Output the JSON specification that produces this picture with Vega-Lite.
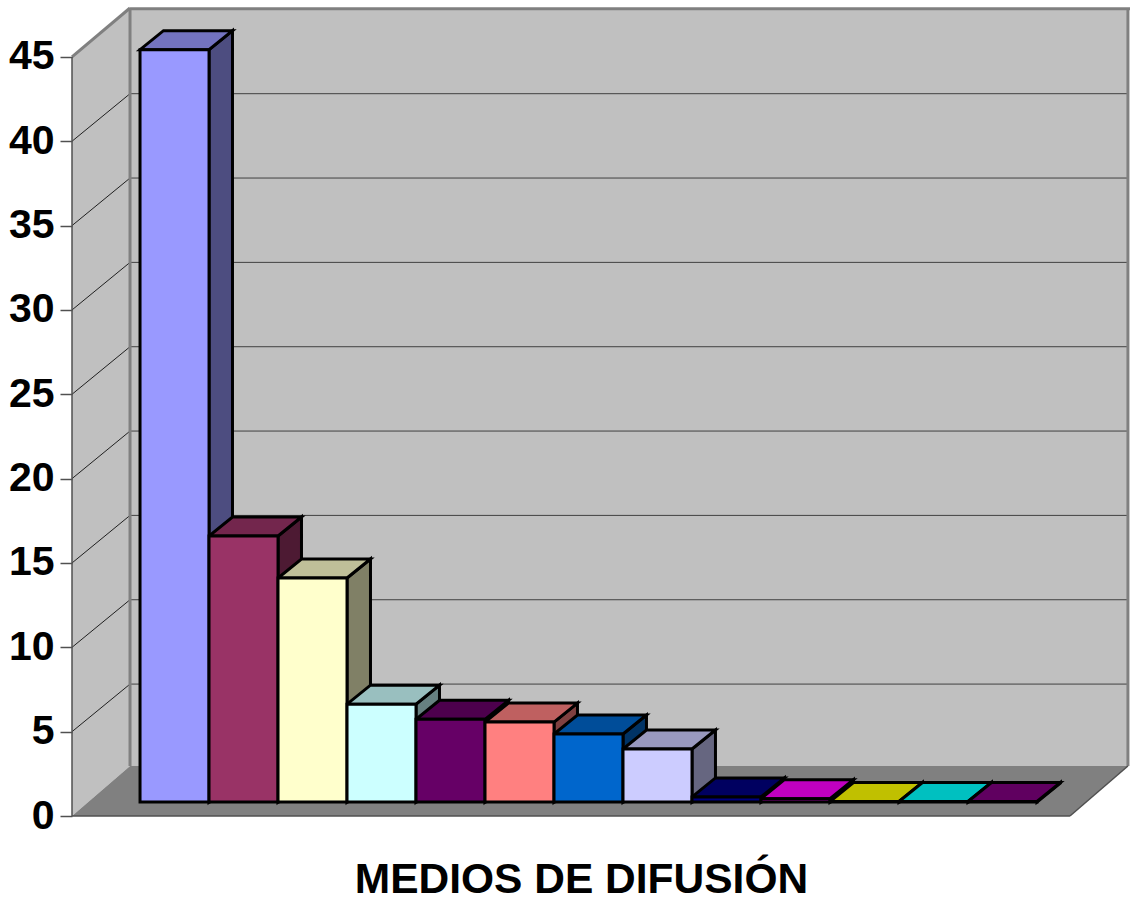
{
"$schema":"https://vega.github.io/schema/vega-lite/v6.json",
"width":1058,"height":808,
"autosize":{"type":"none"},
"padding":{"left":72,"top":8,"right":0,"bottom":81},
"background":"white",
"config":{"view":{"stroke":null},"axis":{"grid":false}},
"datasets":{
"medios":[
{"medio":1,"valor":44.6},{"medio":2,"valor":15.77},{"medio":3,"valor":13.28},{"medio":4,"valor":5.8},
{"medio":5,"valor":4.9},{"medio":6,"valor":4.74},{"medio":7,"valor":4.03},{"medio":8,"valor":3.14},
{"medio":9,"valor":0.3},{"medio":10,"valor":0.2},{"medio":11,"valor":0.03},{"medio":12,"valor":0.03},{"medio":13,"valor":0.03}],
"superficies":[
{"cara":"fondo","x":-0.145,"y":2.964,"y2":47.9},{"cara":"fondo","x":14.318,"y":2.964,"y2":47.9},
{"cara":"lateral","x":-0.986,"y":0,"y2":45},{"cara":"lateral","x":-0.145,"y":2.964,"y2":47.9},
{"cara":"suelo","x":-0.986,"y":0,"y2":0},{"cara":"suelo","x":-0.145,"y":0,"y2":2.964},{"cara":"suelo","x":13.478,"y":0,"y2":2.964},{"cara":"suelo","x":14.318,"y":2.964,"y2":2.964}],
"aristas":[
{"tipo":"pared","x":-0.145,"x2":14.348,"y":47.85,"y2":47.85},
{"tipo":"pared","x":-0.145,"x2":-0.145,"y":2.964,"y2":47.9},
{"tipo":"pared","x":14.318,"x2":14.318,"y":2.964,"y2":47.9},
{"tipo":"pared","x":-0.986,"x2":-0.145,"y":45,"y2":47.9},
{"tipo":"suelo","x":-0.986,"x2":13.478,"y":0,"y2":0},
{"tipo":"suelo","x":13.478,"x2":14.318,"y":0,"y2":2.964},
{"tipo":"suelo","x":-0.986,"x2":-0.986,"y":0,"y2":45}],
"rejilla":[{"v":5},{"v":10},{"v":15},{"v":20},{"v":25},{"v":30},{"v":35},{"v":40}]
},
"layer":[
{"data":{"name":"superficies"},"transform":[{"filter":"datum.cara==='fondo'"}],
 "mark":{"type":"area","fill":"#C0C0C0"},
 "encoding":{
  "x":{"field":"x","type":"quantitative","scale":{"domain":[-0.986,14.348],"nice":false,"zero":false},
   "axis":{"title":"MEDIOS DE DIFUSIÓN","labels":false,"ticks":false,"domain":false,"titleFont":"Liberation Sans","titleFontWeight":"bold","titleFontSize":42.5,"titleColor":"#000","titleX":509,"titleY":76,"titleBaseline":"alphabetic","titleAnchor":"middle","titleAlign":"center"}},
  "y":{"field":"y","type":"quantitative","scale":{"domain":[0,47.9],"nice":false,"zero":false},
   "axis":{"title":null,"values":[0,5,10,15,20,25,30,35,40,45],"format":"d","domain":false,"labelFont":"Liberation Sans","labelFontWeight":"bold","labelFontSize":41,"labelColor":"#000","labelPadding":6,"labelBaseline":"middle","labelOverlap":false,"labelFlush":false,"tickSize":12,"tickColor":"#505050","tickWidth":1.5,"zindex":1}},
  "y2":{"field":"y2"}}},
{"data":{"name":"superficies"},"transform":[{"filter":"datum.cara==='lateral'"}],
 "mark":{"type":"area","fill":"#C0C0C0"},
 "encoding":{"x":{"field":"x","type":"quantitative"},"y":{"field":"y","type":"quantitative"},"y2":{"field":"y2"}}},
{"data":{"name":"superficies"},"transform":[{"filter":"datum.cara==='suelo'"}],
 "mark":{"type":"area","fill":"#808080"},
 "encoding":{"x":{"field":"x","type":"quantitative"},"y":{"field":"y","type":"quantitative"},"y2":{"field":"y2"}}},
{"data":{"name":"rejilla"},"transform":[{"calculate":"datum.v+2.82","as":"vf"},{"calculate":"-0.145","as":"xa"},{"calculate":"14.318","as":"xb"}],
 "mark":{"type":"rule","stroke":"#404040","strokeWidth":1},
 "encoding":{"x":{"field":"xa","type":"quantitative"},"x2":{"field":"xb"},"y":{"field":"vf","type":"quantitative"}}},
{"data":{"name":"rejilla"},"transform":[{"calculate":"datum.v+2.82","as":"vf"},{"calculate":"-0.986","as":"xa"},{"calculate":"-0.145","as":"xb"}],
 "mark":{"type":"rule","stroke":"#202020","strokeWidth":1},
 "encoding":{"x":{"field":"xa","type":"quantitative"},"x2":{"field":"xb"},"y":{"field":"v","type":"quantitative"},"y2":{"field":"vf"}}},
{"data":{"name":"aristas"},"transform":[{"filter":"datum.tipo==='pared'"}],
 "mark":{"type":"rule","stroke":"#808080","strokeWidth":3},
 "encoding":{"x":{"field":"x","type":"quantitative"},"x2":{"field":"x2"},"y":{"field":"y","type":"quantitative"},"y2":{"field":"y2"}}},
{"data":{"name":"aristas"},"transform":[{"filter":"datum.tipo==='suelo'"}],
 "mark":{"type":"rule","stroke":"#505050","strokeWidth":1.5},
 "encoding":{"x":{"field":"x","type":"quantitative"},"x2":{"field":"x2"},"y":{"field":"y","type":"quantitative"},"y2":{"field":"y2"}}},
{"data":{"name":"medios"},
 "transform":[
  {"calculate":"datum.valor+0.83","as":"t"},
  {"calculate":"[datum.medio,datum.medio+0.34]","as":"px"},
  {"calculate":"[datum.t,datum.t+1.126]","as":"py"},
  {"calculate":"[0.83,1.956]","as":"py2"},
  {"flatten":["px","py","py2"]}],
 "mark":{"type":"area","stroke":"#000","strokeWidth":3,"strokeJoin":"miter"},
 "encoding":{
  "x":{"field":"px","type":"quantitative"},
  "y":{"field":"py","type":"quantitative"},"y2":{"field":"py2"},
  "color":{"field":"medio","type":"nominal","legend":null,"scale":{"domain":[1,2,3,4,5,6,7,8,9,10,11,12,13],"range":["#4D4D80","#4D1A33","#808066","#668080","#330033","#804040","#003366","#666680","#000040","#800080","#808000","#008080","#400040"]}}}},
{"data":{"name":"medios"},
 "transform":[
  {"calculate":"datum.valor+0.83","as":"t"},
  {"calculate":"[datum.medio-1,datum.medio-0.66,datum.medio,datum.medio+0.34]","as":"px"},
  {"calculate":"[datum.t,datum.t,datum.t,datum.t+1.126]","as":"py"},
  {"calculate":"[datum.t,datum.t+1.126,datum.t+1.126,datum.t+1.126]","as":"py2"},
  {"flatten":["px","py","py2"]}],
 "mark":{"type":"area","stroke":"#000","strokeWidth":3,"strokeJoin":"miter"},
 "encoding":{
  "x":{"field":"px","type":"quantitative"},
  "y":{"field":"py","type":"quantitative"},"y2":{"field":"py2"},
  "color":{"field":"medio","type":"nominal","legend":null,"scale":{"domain":[1,2,3,4,5,6,7,8,9,10,11,12,13],"range":["#7373BF","#73264D","#BFBF99","#99BFBF","#4D004D","#BF6060","#004D99","#9999BF","#000060","#C000C0","#C0C000","#00C0C0","#600060"]}}}},
{"data":{"name":"medios"},
 "transform":[
  {"calculate":"datum.valor+0.83","as":"t"},{"calculate":"0.83","as":"b"},
  {"calculate":"datum.medio-1","as":"x0"}],
 "mark":{"type":"rect","stroke":"#000","strokeWidth":3},
 "encoding":{
  "x":{"field":"x0","type":"quantitative"},"x2":{"field":"medio"},
  "y":{"field":"t","type":"quantitative"},"y2":{"field":"b"},
  "color":{"field":"medio","type":"nominal","legend":null,"scale":{"domain":[1,2,3,4,5,6,7,8,9,10,11,12,13],"range":["#9999FF","#993366","#FFFFCC","#CCFFFF","#660066","#FF8080","#0066CC","#CCCCFF","#000080","#FF00FF","#FFFF00","#00FFFF","#800080"]}}}}
],
"resolve":{"scale":{"color":"independent"}}
}
